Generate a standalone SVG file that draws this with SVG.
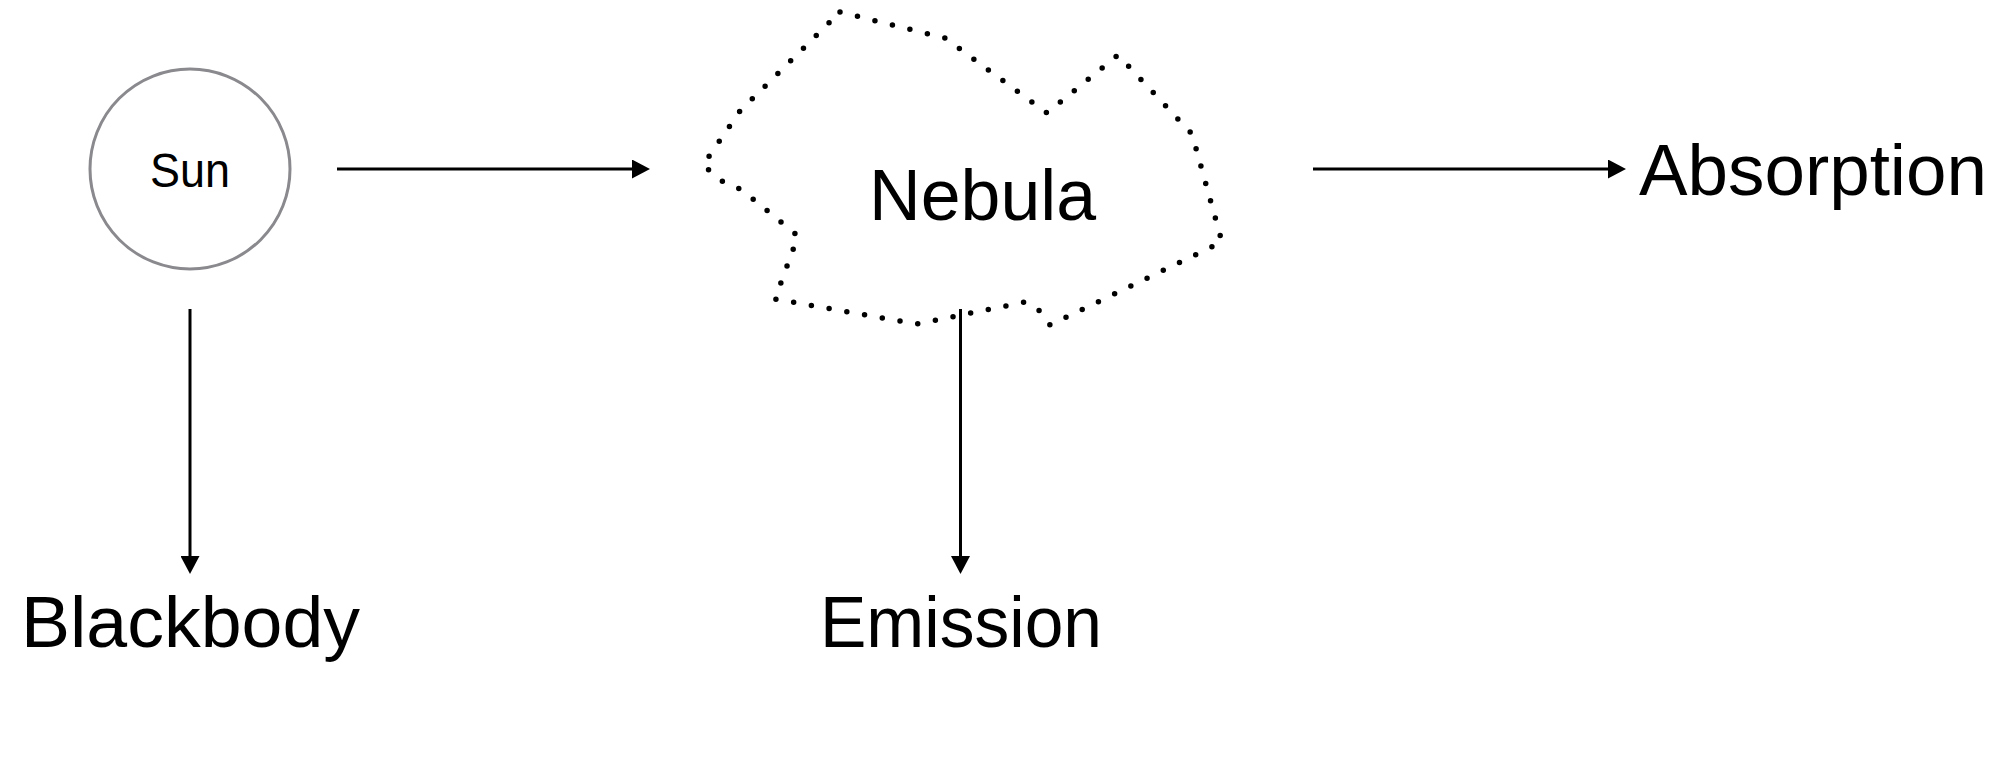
<svg xmlns="http://www.w3.org/2000/svg" width="2008" height="776" viewBox="0 0 2008 776">
<style>
.lbl{font-family:"Liberation Sans",Arial,sans-serif;fill:#000;}
.conn{stroke:#000;stroke-width:3;fill:none;}
</style>
<defs>
<marker id="ah" markerUnits="userSpaceOnUse" markerWidth="18" markerHeight="19" refX="0" refY="9.5" orient="auto" viewBox="0 0 18 19">
<path d="M0,0 L18,9.5 L0,19 Z" fill="#000"/>
</marker>
</defs>
<rect width="2008" height="776" fill="#fff"/>
<g id="sun">
<circle cx="190" cy="169" r="100" fill="none" stroke="#8a8a8e" stroke-width="3"/>
<text class="lbl" x="150" y="187" font-size="48" textLength="80" lengthAdjust="spacingAndGlyphs">Sun</text>
</g>
<g id="nebula">
<path d="M840,12 L945,38 L1047,113 L1118,55 L1192,134 L1222,242 L1050,325 L1038,309 L1025,302 L917,324 L775,299 L798,236 L742,190 L722,181 L703,165 L740,111 Z" fill="none" stroke="#000" stroke-width="5.5" stroke-linecap="round" stroke-linejoin="round" stroke-dasharray="0 18"/>
<text class="lbl" x="869" y="220" font-size="72" textLength="227" lengthAdjust="spacingAndGlyphs">Nebula</text>
</g>
<g id="absorption">
<text class="lbl" x="1639" y="195" font-size="72" textLength="348" lengthAdjust="spacingAndGlyphs">Absorption</text>
</g>
<g id="blackbody">
<text class="lbl" x="21" y="647" font-size="72" textLength="339" lengthAdjust="spacingAndGlyphs">Blackbody</text>
</g>
<g id="emission">
<text class="lbl" x="820" y="647" font-size="72" textLength="282" lengthAdjust="spacingAndGlyphs">Emission</text>
</g>
<g id="connectors">
<line class="conn" x1="337" y1="169" x2="632" y2="169" marker-end="url(#ah)"/>
<line class="conn" x1="1313" y1="169" x2="1608" y2="169" marker-end="url(#ah)"/>
<line class="conn" x1="190" y1="309" x2="190" y2="556" marker-end="url(#ah)"/>
<line class="conn" x1="960.5" y1="309" x2="960.5" y2="556" marker-end="url(#ah)"/>
</g>
</svg>
